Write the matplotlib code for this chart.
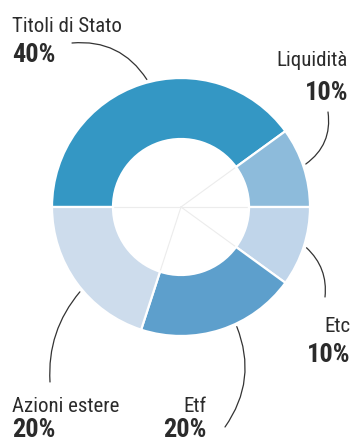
import numpy as np
import matplotlib.pyplot as plt
from matplotlib import font_manager

# dati del grafico
categorie = ["Titoli di Stato", "Liquidità", "Etc", "Etf", "Azioni estere"]
valori = [40, 10, 10, 20, 20]
etichette_pct = ["40%", "10%", "10%", "20%", "20%"]
colori = ["#3497c4", "#8dbbdb", "#c0d5ea", "#5d9fcc", "#cddcec"]

# cerca un font stretto, altrimenti DejaVu Sans piu' piccolo
candidati = [("Roboto Condensed", 15, 19), ("Open Sans Condensed", 15, 19),
             ("Liberation Sans Narrow", 15, 19), ("Noto Sans Condensed", 14.5, 18)]
famiglia, fs_nome, fs_pct = "DejaVu Sans", 12.5, 14
for fam, a, b in candidati:
    try:
        font_manager.findfont(font_manager.FontProperties(family=fam),
                              fallback_to_default=False)
        famiglia, fs_nome, fs_pct = fam, a, b
        break
    except ValueError:
        pass

# figura in pixel: 1 unita' = 1 px
W, H = 355, 443
fig = plt.figure(figsize=(W / 100, H / 100), dpi=100)
ax = fig.add_axes([0, 0, 1, 1])

cx, cy = 181, 236
R = 129
spessore = 61

wedges, _ = ax.pie(valori, colors=colori, startangle=180, counterclock=False,
                   center=(cx, cy), radius=R,
                   wedgeprops=dict(width=spessore, edgecolor="white", linewidth=1.6))

# linee chiare nel buco centrale (come nell'originale)
for w in wedges:
    a = np.deg2rad(w.theta1)
    r_in = R - spessore
    ax.plot([cx, cx + r_in * np.cos(a)], [cy, cy + r_in * np.sin(a)],
            color="#ececec", lw=0.8, zorder=0)

col_testo = "#2b2b2b"

# posizione delle etichette: (x, baseline nome, baseline pct, allineamento)
pos_etichette = [
    (12, 411, 381, "left"),
    (348, 377, 343, "right"),
    (350, 111, 81, "right"),
    (206, 31, 6, "right"),
    (12, 31, 6, "left"),
]
# punto di partenza del filo e angolo di attacco sulla ciambella
attacco_testo = [(72, 400), (328, 331), (325, 146), (225, 16), (50, 61)]
angoli_attacco = [105, 19, -18, -65, -140]
curvature = [-0.3, -0.3, 0.25, 0.27, -0.2]

for i, nome in enumerate(categorie):
    x, yn, yp, ha = pos_etichette[i]
    ax.text(x, yn, nome, ha=ha, va="baseline", fontsize=fs_nome,
            family=famiglia, color=col_testo)
    ax.text(x, yp, etichette_pct[i], ha=ha, va="baseline", fontsize=fs_pct,
            fontweight="bold", family=famiglia, color=col_testo)
    a = np.deg2rad(angoli_attacco[i])
    bx = cx + (R + 3) * np.cos(a)
    by = cy + (R + 3) * np.sin(a)
    ax.annotate("", xy=(bx, by), xytext=attacco_testo[i],
                arrowprops=dict(arrowstyle="-", color="#333333", lw=0.9,
                                shrinkA=0, shrinkB=0,
                                connectionstyle="arc3,rad=%s" % curvature[i]))

ax.set_xlim(0, W)
ax.set_ylim(0, H)
ax.set_aspect("equal")
ax.axis("off")

plt.savefig("out.png", dpi=100, facecolor="white")
